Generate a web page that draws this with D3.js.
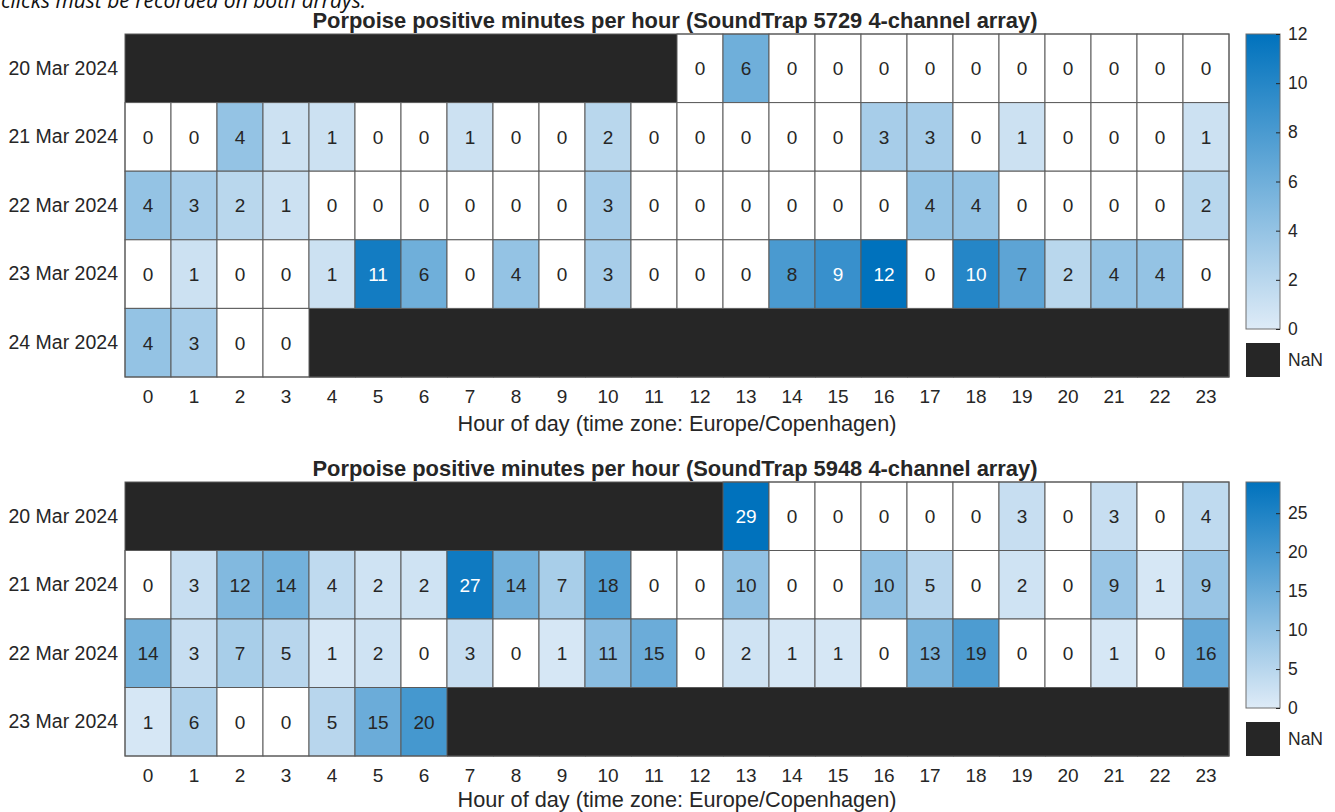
<!DOCTYPE html>
<html><head><meta charset="utf-8">
<script src="https://cdn.jsdelivr.net/npm/d3@7"></script>
<style>body{margin:0;background:#fff}svg{display:block}</style>
</head><body>
<svg id="chart" width="1335" height="812"></svg>
<script>
const hours = d3.range(0, 24);
const caption = "clicks must be recorded on both arrays.";
const xLabel = "Hour of day (time zone: Europe/Copenhagen)";

const title1 = "Porpoise positive minutes per hour (SoundTrap 5729 4-channel array)";
const days1 = ["20 Mar 2024", "21 Mar 2024", "22 Mar 2024", "23 Mar 2024", "24 Mar 2024"];
const N = null;
const values1 = [
  [N,N,N,N,N,N,N,N,N,N,N,N,0,6,0,0,0,0,0,0,0,0,0,0],
  [0,0,4,1,1,0,0,1,0,0,2,0,0,0,0,0,3,3,0,1,0,0,0,1],
  [4,3,2,1,0,0,0,0,0,0,3,0,0,0,0,0,0,4,4,0,0,0,0,2],
  [0,1,0,0,1,11,6,0,4,0,3,0,0,0,8,9,12,0,10,7,2,4,4,0],
  [4,3,0,0,N,N,N,N,N,N,N,N,N,N,N,N,N,N,N,N,N,N,N,N]
];
const cbTicks1 = [0, 2, 4, 6, 8, 10, 12];
const cbMax1 = 12;

const title2 = "Porpoise positive minutes per hour (SoundTrap 5948 4-channel array)";
const days2 = ["20 Mar 2024", "21 Mar 2024", "22 Mar 2024", "23 Mar 2024"];
const values2 = [
  [N,N,N,N,N,N,N,N,N,N,N,N,N,29,0,0,0,0,0,3,0,3,0,4],
  [0,3,12,14,4,2,2,27,14,7,18,0,0,10,0,0,10,5,0,2,0,9,1,9],
  [14,3,7,5,1,2,0,3,0,1,11,15,0,2,1,1,0,13,19,0,0,1,0,16],
  [1,6,0,0,5,15,20,N,N,N,N,N,N,N,N,N,N,N,N,N,N,N,N,N]
];
const cbTicks2 = [0, 5, 10, 15, 20, 25];
const cbMax2 = 29;

const svg = d3.select("#chart");
const FONT = "'Liberation Sans', Arial, Helvetica, sans-serif";
const TXT = "#262626";
const NANC = "#262626";
const lowC = "rgb(222,235,247)", highC = "rgb(0,114,189)";
const FS = 19;

svg.append("text").attr("x", 1).attr("y", 8)
  .attr("font-family", "'Open Sans', 'Noto Sans', sans-serif")
  .attr("font-style", "italic").attr("font-size", 21).attr("fill", "#111")
  .text(caption);

function heatmap(opts) {
  const {title, days, values, cbTicks, cbMax, top, bottom, labelOff} = opts;
  const left = 125, right = 1229;
  const g = svg.append("g");
  const x = d3.scaleBand().domain(hours).range([left, right]);
  const y = d3.scaleBand().domain(days).range([top, bottom]);
  const color = d3.scaleLinear().domain([0, cbMax]).range([lowC, highC]).interpolate(d3.interpolateRgb);
  const cells = [];
  values.forEach((row, i) => row.forEach((v, j) => cells.push({day: days[i], hour: hours[j], v})));

  g.selectAll("rect.nan").data(cells.filter(d => d.v === null)).join("rect")
    .attr("x", d => x(d.hour)).attr("y", d => y(d.day))
    .attr("width", x.bandwidth() + 0.5).attr("height", y.bandwidth() + 0.5)
    .attr("fill", NANC);
  g.selectAll("rect.val").data(cells.filter(d => d.v !== null)).join("rect")
    .attr("x", d => x(d.hour)).attr("y", d => y(d.day))
    .attr("width", x.bandwidth()).attr("height", y.bandwidth())
    .attr("fill", d => d.v === 0 ? "#ffffff" : color(d.v))
    .attr("stroke", "#5a5a5a").attr("stroke-width", 1);
  g.selectAll("text.val").data(cells.filter(d => d.v !== null)).join("text")
    .attr("x", d => x(d.hour) + x.bandwidth() / 2)
    .attr("y", d => y(d.day) + y.bandwidth() / 2)
    .attr("dy", "0.36em").attr("text-anchor", "middle")
    .attr("font-family", FONT).attr("font-size", FS)
    .attr("fill", d => d.v / cbMax > 0.72 ? "#ffffff" : TXT)
    .text(d => d.v);
  g.append("rect").attr("x", left).attr("y", top).attr("width", right - left).attr("height", bottom - top)
    .attr("fill", "none").attr("stroke", "#5a5a5a").attr("stroke-width", 1);

  const xa = g.append("g").attr("transform", `translate(0,${bottom + 6})`)
    .call(d3.axisBottom(x).tickSize(0).tickPadding(7));
  xa.select(".domain").remove();
  xa.selectAll("text").attr("font-family", FONT).attr("font-size", FS).attr("fill", TXT);
  const ya = g.append("g").attr("transform", `translate(${left - 2},0)`)
    .call(d3.axisLeft(y).tickSize(0).tickPadding(5));
  ya.select(".domain").remove();
  ya.selectAll("text").attr("font-family", FONT).attr("font-size", 19.5).attr("fill", TXT);

  g.append("text").attr("x", (left + right) / 2).attr("y", bottom + labelOff)
    .attr("text-anchor", "middle").attr("font-family", FONT).attr("font-size", 21.7).attr("fill", TXT)
    .text(xLabel);
  g.append("text").attr("x", (left + right) / 2 - 2).attr("y", top - 6)
    .attr("text-anchor", "middle").attr("font-family", FONT).attr("font-weight", "bold")
    .attr("font-size", 21.9).attr("fill", TXT).text(title);

  const cbx = 1246, cbw = 34;
  const cbBottom = bottom - 48;
  const cy = d3.scaleLinear().domain([0, cbMax]).range([cbBottom, top]);
  const gid = "grad" + opts.id;
  const grad = svg.append("defs").append("linearGradient").attr("id", gid)
    .attr("x1", 0).attr("y1", 1).attr("x2", 0).attr("y2", 0);
  grad.append("stop").attr("offset", 0).attr("stop-color", lowC);
  grad.append("stop").attr("offset", 1).attr("stop-color", highC);
  g.append("rect").attr("x", cbx).attr("y", top).attr("width", cbw).attr("height", cbBottom - top)
    .attr("fill", `url(#${gid})`).attr("stroke", "#6e6e6e").attr("stroke-width", 1);
  const ca = g.append("g").attr("transform", `translate(${cbx + cbw},0)`)
    .call(d3.axisRight(cy).tickValues(cbTicks).tickSize(-4).tickPadding(8));
  ca.select(".domain").remove();
  ca.selectAll("line").attr("stroke", "#262626");
  ca.selectAll("text").attr("font-family", FONT).attr("font-size", 17.5).attr("fill", TXT);
  g.append("rect").attr("x", cbx).attr("y", cbBottom + 14).attr("width", cbw).attr("height", bottom - cbBottom - 14)
    .attr("fill", NANC);
  g.append("text").attr("x", cbx + cbw + 8).attr("y", (cbBottom + 14 + bottom) / 2).attr("dy", "0.36em")
    .attr("font-family", FONT).attr("font-size", 17.5).attr("fill", TXT).text("NaN");
}

heatmap({id: 1, title: title1, days: days1, values: values1, cbTicks: cbTicks1, cbMax: cbMax1, top: 34, bottom: 377, labelOff: 54});
heatmap({id: 2, title: title2, days: days2, values: values2, cbTicks: cbTicks2, cbMax: cbMax2, top: 482, bottom: 756, labelOff: 51});
</script>
</body></html>
